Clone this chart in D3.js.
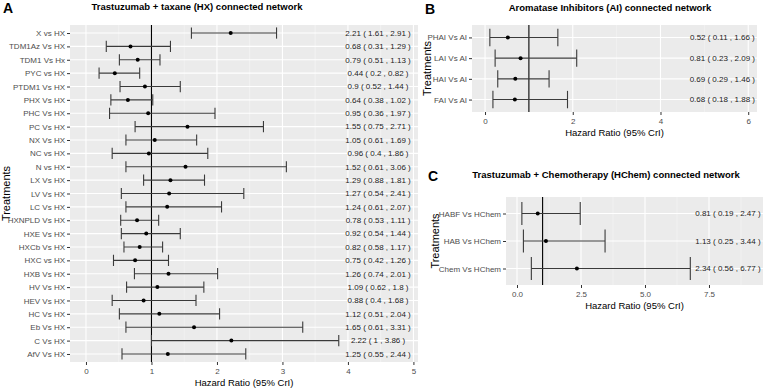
<!DOCTYPE html>
<html>
<head>
<meta charset="utf-8">
<script src="https://cdn.jsdelivr.net/npm/d3@7"></script>
<style>
  body { margin: 0; background: #fff; }
  text { font-family: "Liberation Sans", Arial, sans-serif; }
</style>
</head>
<body>
<div class="chart"></div>
<script>
// Panel A: Trastuzumab + taxane (HX)
const hxLabels = ["X vs HX", "TDM1Az Vs HX", "TDM1 Vs Hx", "PYC vs HX", "PTDM1 Vs HX", "PHX Vs HX",
  "PHC Vs HX", "PC Vs HX", "NX Vs HX", "NC vs HX", "N vs HX", "LX Vs HX", "LV Vs HX", "LC Vs HX",
  "HXNPLD Vs HX", "HXE Vs HX", "HXCb Vs HX", "HXC vs HX", "HXB Vs HX", "HV Vs HX", "HEV Vs HX",
  "HC Vs HX", "Eb Vs HX", "C Vs HX", "AfV Vs HX"]
const hxEst  = [2.21, 0.68, 0.79, 0.44, 0.9, 0.64, 0.95, 1.55, 1.05, 0.96, 1.52, 1.29, 1.27, 1.24, 0.78, 0.92, 0.82, 0.75, 1.26, 1.09, 0.88, 1.12, 1.65, 2.22, 1.25]
const hxLow  = [1.61, 0.31, 0.51, 0.2, 0.52, 0.38, 0.36, 0.75, 0.61, 0.4, 0.61, 0.88, 0.54, 0.61, 0.53, 0.54, 0.58, 0.42, 0.74, 0.62, 0.4, 0.51, 0.61, 1, 0.55]
const hxHigh = [2.91, 1.29, 1.13, 0.82, 1.44, 1.02, 1.97, 2.71, 1.69, 1.86, 3.06, 1.81, 2.41, 2.07, 1.11, 1.44, 1.17, 1.26, 2.01, 1.8, 1.68, 2.04, 3.31, 3.86, 2.44]
const hxTicks = [0, 1, 2, 3, 4, 5]

// Panel B: Aromatase Inhibitors (AI)
const aiLabels = ["PHAI Vs AI", "LAI Vs AI", "HAI Vs AI", "FAI Vs AI"]
const aiEst  = [0.52, 0.81, 0.69, 0.68]
const aiLow  = [0.11, 0.23, 0.29, 0.18]
const aiHigh = [1.66, 2.09, 1.46, 1.88]
const aiTicks = [0, 2, 4, 6]

// Panel C: Trastuzumab + Chemotherapy (HChem)
const hcLabels = ["HABF Vs HChem", "HAB Vs HChem", "Chem Vs HChem"]
const hcEst  = [0.81, 1.13, 2.34]
const hcLow  = [0.19, 0.25, 0.56]
const hcHigh = [2.47, 3.44, 6.77]
const hcTicks = [0, 2.5, 5, 7.5]

const W = 767, H = 389

const svg = d3.select(".chart").append("svg")
  .attr("width", W)
  .attr("height", H)

function drawPanel(p) {
  const x = d3.scaleLinear().domain(p.domain).range([p.left, p.right])
  const y = d3.scalePoint().domain(p.labels).range([p.top, p.bottom]).padding(0.6)
  const step = y.step()
  const g = svg.append("g")

  g.append("rect")
    .attr("x", p.left).attr("y", p.top)
    .attr("width", p.right - p.left).attr("height", p.bottom - p.top)
    .attr("fill", "#EBEBEB")

  // minor grid between major breaks
  const bd = p.ticks[1] - p.ticks[0]
  const ext = [p.ticks[0] - bd, ...p.ticks, p.ticks[p.ticks.length - 1] + bd]
  const minor = d3.pairs(ext).map(([a, b]) => (a + b) / 2)
    .filter(v => v > p.domain[0] && v < p.domain[1])
  g.selectAll(".minor").data(minor).join("line")
    .attr("x1", d => x(d)).attr("x2", d => x(d))
    .attr("y1", p.top).attr("y2", p.bottom)
    .attr("stroke", "#F7F7F7").attr("stroke-width", 0.6)

  g.selectAll(".majorx").data(p.ticks).join("line")
    .attr("x1", d => x(d)).attr("x2", d => x(d))
    .attr("y1", p.top).attr("y2", p.bottom)
    .attr("stroke", "#fff").attr("stroke-width", 1.1)

  g.selectAll(".majory").data(p.labels).join("line")
    .attr("x1", p.left).attr("x2", p.right)
    .attr("y1", d => y(d)).attr("y2", d => y(d))
    .attr("stroke", "#fff").attr("stroke-width", 1.1)

  // reference line at HR = 1
  g.append("line")
    .attr("x1", x(1)).attr("x2", x(1))
    .attr("y1", p.top).attr("y2", p.bottom)
    .attr("stroke", "#000").attr("stroke-width", 1.1)

  const rows = p.labels.map((l, i) => ({ l, e: p.est[i], lo: p.low[i], hi: p.high[i] }))
  const cap = step * 0.42

  const bars = g.selectAll(".bar").data(rows).join("g")
  bars.append("line")
    .attr("x1", d => x(d.lo)).attr("x2", d => x(d.hi))
    .attr("y1", d => y(d.l)).attr("y2", d => y(d.l))
  bars.append("line")
    .attr("x1", d => x(d.lo)).attr("x2", d => x(d.lo))
    .attr("y1", d => y(d.l) - cap).attr("y2", d => y(d.l) + cap)
  bars.append("line")
    .attr("x1", d => x(d.hi)).attr("x2", d => x(d.hi))
    .attr("y1", d => y(d.l) - cap).attr("y2", d => y(d.l) + cap)
  bars.selectAll("line").attr("stroke", "#3a3a3a").attr("stroke-width", 1.1)

  bars.append("circle")
    .attr("cx", d => x(d.e)).attr("cy", d => y(d.l))
    .attr("r", 2).attr("fill", "#000")

  bars.append("text")
    .attr("x", x(p.textX)).attr("y", d => y(d.l))
    .attr("dy", "0.35em")
    .attr("text-anchor", "middle")
    .attr("font-size", 8)
    .attr("fill", "#222")
    .text(d => `${d.e} ( ${d.lo} , ${d.hi} )`)

  // axes
  const xAxis = g.append("g")
    .attr("transform", `translate(0,${p.bottom})`)
    .call(d3.axisBottom(x).tickValues(p.ticks).tickSize(3).tickPadding(3).tickFormat(p.fmt))
  const yAxis = g.append("g")
    .attr("transform", `translate(${p.left},0)`)
    .call(d3.axisLeft(y).tickSize(3).tickPadding(2))
  for (const ax of [xAxis, yAxis]) {
    ax.select(".domain").remove()
    ax.selectAll(".tick line").attr("stroke", "#333")
    ax.selectAll(".tick text").attr("fill", "#4D4D4D").attr("font-size", 8)
      .attr("font-family", null)
  }

  g.append("text")
    .attr("x", (p.left + p.right) / 2).attr("y", p.bottom + 24)
    .attr("text-anchor", "middle").attr("font-size", 9.5).attr("fill", "#000")
    .text("Hazard Ratio (95% CrI)")

  g.append("text")
    .attr("transform", `translate(${p.yTitleX},${(p.top + p.bottom) / 2}) rotate(-90)`)
    .attr("text-anchor", "middle").attr("font-size", 11).attr("fill", "#000")
    .text("Treatments")

  g.append("text")
    .attr("x", p.titleX).attr("y", p.titleY)
    .attr("text-anchor", "middle").attr("font-size", 9.5).attr("font-weight", "bold")
    .text(p.title)

  g.append("text")
    .attr("x", p.letterX).attr("y", p.titleY + 3)
    .attr("font-size", 14).attr("font-weight", "bold")
    .text(p.letter)
}

drawPanel({
  labels: hxLabels, est: hxEst, low: hxLow, high: hxHigh, ticks: hxTicks,
  domain: [-0.244, 5.07], left: 70, right: 418, top: 25, bottom: 362,
  textX: 4.46, fmt: d3.format("d"),
  title: "Trastuzumab + taxane (HX) connected network", titleX: 197, titleY: 10,
  letter: "A", letterX: 3, yTitleX: 10
})

drawPanel({
  labels: aiLabels, est: aiEst, low: aiLow, high: aiHigh, ticks: aiTicks,
  domain: [-0.297, 6.2], left: 472, right: 757, top: 25, bottom: 112,
  textX: 5.41, fmt: d3.format("d"),
  title: "Aromatase Inhibitors (AI) connected network", titleX: 610, titleY: 11,
  letter: "B", letterX: 425, yTitleX: 431
})

drawPanel({
  labels: hcLabels, est: hcEst, low: hcLow, high: hcHigh, ticks: hcTicks,
  domain: [-0.43, 9.61], left: 506, right: 763, top: 197, bottom: 285,
  textX: 8.24, fmt: d3.format(".1f"),
  title: "Trastuzumab + Chemotherapy (HChem) connected network", titleX: 606, titleY: 178,
  letter: "C", letterX: 428, yTitleX: 439
})
</script>
</body>
</html>
